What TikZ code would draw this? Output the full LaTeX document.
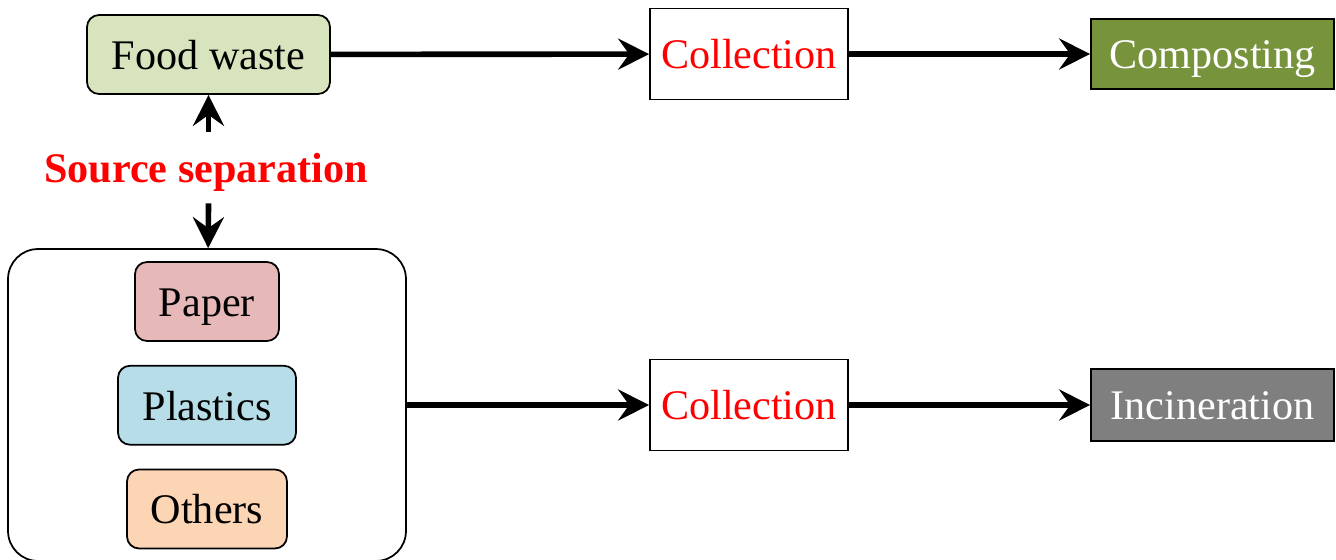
\documentclass[tikz,border=0pt]{standalone}
\usepackage{fontspec}
\setmainfont{Liberation Serif}
\usetikzlibrary{arrows.meta,positioning}

\definecolor{foodgreen}{HTML}{D7E4BD}
\definecolor{compgreen}{HTML}{77933C}
\definecolor{paperred}{HTML}{E6B9B8}
\definecolor{plasticblue}{HTML}{B7DEE8}
\definecolor{otherorange}{HTML}{FCD5B5}
\definecolor{incgray}{HTML}{7F7F7F}

\tikzstyle{label} = [text height=21.6pt, text depth=4.8pt, font=\fontsize{24}{28}\selectfont]
\tikzstyle{waste} = [label, rectangle, rounded corners=0.24cm, minimum height=1.58cm, text centered, draw=black, line width=1pt]
\tikzstyle{collect} = [label, rectangle, minimum width=3.96cm, minimum height=1.82cm, text centered, draw=black, line width=1pt, text=red]
\tikzstyle{treat} = [label, rectangle, minimum width=4.86cm, text centered, draw=black, line width=1pt, text=white]
\tikzstyle{arrow} = [line width=3.2pt, -{Stealth[length=0.62cm, width=0.62cm, inset=0.22cm]}]

\begin{document}
\begin{tikzpicture}[x=0.02cm, y=-0.02cm]
	\useasboundingbox (0,0) rectangle (1336,559);
	\node (food) [waste, fill=foodgreen, minimum width=4.86cm] at (208.5,54.5) {Food waste};
	\node (coll1) [collect] at (749,54) {Collection};
	\node (comp) [treat, fill=compgreen, minimum height=1.4cm] at (1212.5,54) {Composting};
	
	\node (sep) [label, text=red, font=\bfseries\fontsize{24}{28}\selectfont, minimum height=1.42cm] at (206,167.5) {Source separation};
	
	\node (sorted) [rectangle, rounded corners=0.6cm, draw=black, line width=1pt, minimum width=7.96cm, minimum height=6.24cm] at (207,405) {};
	\node (paper) [waste, fill=paperred, minimum width=2.88cm] at (207,301.5) {Paper};
	\node (plastic) [waste, fill=plasticblue, minimum width=3.56cm, below=0.46cm of paper] {Plastics};
	\node (others) [waste, fill=otherorange, minimum width=3.2cm, below=0.46cm of plastic] {Others};
	
	\node (coll2) [collect] at (749,405) {Collection};
	\node (inc) [treat, fill=incgray, minimum height=1.44cm] at (1212.5,405) {Incineration};
	
	\draw [arrow] (food) -- (coll1);
	\draw [arrow] (coll1) -- (comp);
	\draw [arrow] (sep.north -| food) -- (food);
	\draw [arrow] (sep.south -| food) -- (sorted);
	\draw [arrow] (sorted) -- (coll2);
	\draw [arrow] (coll2) -- (inc);
\end{tikzpicture}
\end{document}
